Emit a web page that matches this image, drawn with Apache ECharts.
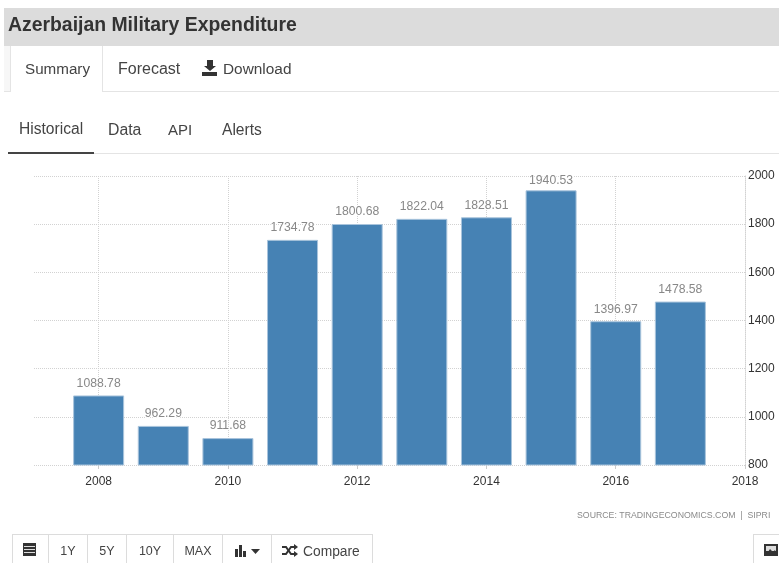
<!DOCTYPE html>
<html>
<head>
<meta charset="utf-8">
<style>html,body{margin:0;padding:0;background:#fff}#chart{width:779px;height:563px}</style>
<script src="https://cdn.jsdelivr.net/npm/echarts@6/dist/echarts.min.js"></script>
</head>
<body>
<div id="chart"></div>
<script>
// Axis runs one year either side of the data; the end years carry no bar
const years = ['2007','2008','2009','2010','2011','2012','2013','2014','2015','2016','2017','2018'];
const expenditure = [null,1088.78,962.29,911.68,1734.78,1800.68,1822.04,1828.51,1940.53,1396.97,1478.58,null];
const yTicks = {min:800,max:2000,step:200};
const pageTitle = 'Azerbaijan Military Expenditure';
const sourceNote = 'SOURCE: TRADINGECONOMICS.COM  |  SIPRI';
const rangeButtons = [['1Y',68],['5Y',107],['10Y',150],['MAX',198]];

const FONT = '"Liberation Sans", Arial, sans-serif';
const txt = (x,y,text,size,color,extra) => ({type:'text',x,y,silent:true,
  style:Object.assign({text,fontFamily:FONT,fontSize:size,fill:color,textVerticalAlign:'middle'},extra||{})});
const box = (x,y,w,h,fill) => ({type:'rect',shape:{x,y,width:w,height:h},silent:true,style:{fill}});

const chrome = [
  // Title band and top tabs
  box(4,8,775,38,'#dcdcdc'),
  txt(8,26,pageTitle,19.4,'#333',{fontWeight:'bold'}),
  box(4,46,6,46,'#f7f7f7'),
  box(4,91,775,1,'#e4e4e4'),
  box(10,46,1,46,'#e4e4e4'),
  box(102,46,1,46,'#e4e4e4'),
  box(11,46,91,47,'#fff'),
  txt(25,70,'Summary',15.2,'#444'),
  txt(118,70,'Forecast',16,'#444'),
  // Download arrow
  {type:'polygon',silent:true,shape:{points:[[207,60],[213,60],[213,66],[216,66],[210,71],[204,66],[207,66]]},style:{fill:'#333'}},
  box(202,72,15,4,'#333'),
  txt(223,70,'Download',15.4,'#444'),
  // Secondary tabs
  txt(19,130,'Historical',15.6,'#444'),
  txt(108,131,'Data',15.8,'#444'),
  txt(168,131,'API',15,'#444'),
  txt(222,131,'Alerts',15.6,'#444'),
  box(8,153,771,1,'#e4e4e4'),
  box(8,152,86,2,'#444'),
  // Source line
  txt(577,516,sourceNote,8.75,'#8a8a8a'),
  // Toolbar frame
  box(12,534,361,1,'#dcdcdc'),
  box(753,534,26,1,'#dcdcdc'),
  box(753,534,1,29,'#dcdcdc')
];
// Toolbar dividers
[12,48,87,126,173,222,271,372].forEach(x => chrome.push(box(x,534,1,29,'#dcdcdc')));
rangeButtons.forEach(([t,cx]) => chrome.push(txt(cx,552,t,12.5,'#444',{textAlign:'center'})));
// Calendar icon
chrome.push(box(23,543,13,13,'#333'));
[546,549,552].forEach(y => chrome.push(box(24,y,11,1,'#ddd')));
// Bar-type icon with caret
chrome.push(box(235,549,3,8,'#333'),box(239,545,3,12,'#333'),box(243,551,3,6,'#333'));
chrome.push({type:'polygon',silent:true,shape:{points:[[251,549],[260,549],[255.5,554]]},style:{fill:'#333'}});
// Compare (crossing arrows) icon
const stroke = {stroke:'#333',lineWidth:2,fill:null};
chrome.push({type:'polyline',silent:true,shape:{points:[[282,547],[286,547],[291,554],[295,554]]},style:stroke});
chrome.push({type:'polyline',silent:true,shape:{points:[[282,554],[286,554],[291,547],[295,547]]},style:stroke});
chrome.push({type:'polygon',silent:true,shape:{points:[[294,544],[298,547],[294,550]]},style:{fill:'#333'}});
chrome.push({type:'polygon',silent:true,shape:{points:[[294,551],[298,554],[294,557]]},style:{fill:'#333'}});
chrome.push(txt(303,552,'Compare',13.8,'#444'));
// Image export icon
chrome.push(box(764,544,14,12,'#333'),box(766,546,10,5,'#ddd'));
chrome.push({type:'polygon',silent:true,shape:{points:[[766,555],[770,549],[773,552],[775,550],[777,555]]},style:{fill:'#333'}});

const evenYear = (i, v) => Number(v) % 2 === 0;
const dots = {color:'#d2d2d2',type:'dotted',width:1};

// The tallest bar sits close to the plot top, so its label hugs the bar
const peak = Math.max(...expenditure.filter(v => v != null));
const barData = expenditure.map(v => v === peak ? {value:v,label:{distance:4}} : v);

const chart = echarts.init(document.getElementById('chart'),null,{renderer:'canvas'});
chart.setOption({
  animation:false,
  backgroundColor:'#fff',
  textStyle:{fontFamily:FONT},
  grid:{left:34,right:34,top:176,height:289,containLabel:false},
  xAxis:{
    type:'category',data:years,boundaryGap:false,
    axisLine:{show:false},
    axisTick:{show:true,alignWithLabel:true,length:4,interval:evenYear,lineStyle:{color:'#ccc'}},
    axisLabel:{interval:evenYear,color:'#333',fontSize:12,margin:11,showMinLabel:true,showMaxLabel:true,hideOverlap:false},
    splitLine:{show:true,interval:evenYear,lineStyle:dots}
  },
  yAxis:{
    type:'value',position:'right',min:yTicks.min,max:yTicks.max,interval:yTicks.step,
    axisLine:{show:true,lineStyle:dots},axisTick:{show:false},
    axisLabel:{color:'#333',fontSize:12,margin:3,align:'left',padding:[2,0,0,0],formatter:v => String(v)},
    splitLine:{show:true,lineStyle:dots}
  },
  series:[{
    type:'bar',data:barData,barWidth:51,
    itemStyle:{color:'#4682b4',borderColor:'#a9c4dc',borderWidth:1},
    label:{show:true,position:'top',distance:6,color:'#888',fontSize:12.2,
      textBorderColor:'#fff',textBorderWidth:2,
      formatter:p => p.value == null ? '' : p.value.toFixed(2)}
  }],
  graphic:{elements:chrome}
});
</script>
</body>
</html>
